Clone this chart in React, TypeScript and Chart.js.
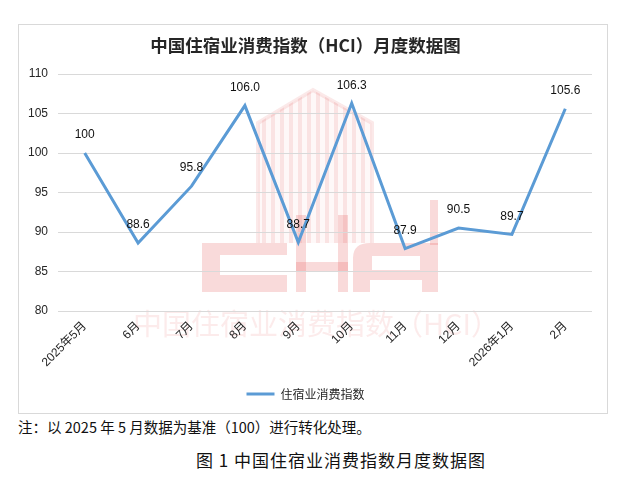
import React, { useEffect, useRef } from "react";
import { Chart, registerables } from "chart.js";

Chart.register(...registerables);

const categories = ["2025年5月", "6月", "7月", "8月", "9月", "10月", "11月", "12月", "2026年1月", "2月"];
const hciValues = [100, 88.6, 95.8, 106.0, 88.7, 106.3, 87.9, 90.5, 89.7, 105.6];
const hciLabels = ["100", "88.6", "95.8", "106.0", "88.7", "106.3", "87.9", "90.5", "89.7", "105.6"];
const yTicks = [80, 85, 90, 95, 100, 105, 110];
const seriesName = "住宿业消费指数";
const chartTitle = "中国住宿业消费指数（HCI）月度数据图";
const watermarkText = "中国住宿业消费指数（HCI）";
const noteText = "注：以 2025 年 5 月数据为基准（100）进行转化处理。";
const captionText = "图 1 中国住宿业消费指数月度数据图";

const SANS = "'Liberation Sans', 'Noto Sans CJK SC', sans-serif";
const CJK = "'Noto Sans CJK SC', sans-serif";

// page -> canvas offset
const OX = 19;
const OY = 25;

const watermarkPlugin = {
  id: "watermark",
  beforeDraw(chart: any) {
    const ctx = chart.ctx;
    ctx.save();
    ctx.translate(-OX, -OY);
    const pink = "rgba(225, 70, 70, 0.2)";
    const pinkLight = "rgba(225, 70, 70, 0.12)";
    // building
    ctx.save();
    ctx.beginPath();
    ctx.moveTo(258, 243);
    ctx.lineTo(258, 123);
    ctx.lineTo(313, 90);
    ctx.lineTo(372, 123);
    ctx.lineTo(372, 243);
    ctx.closePath();
    ctx.clip();
    ctx.fillStyle = "rgba(225, 70, 70, 0.04)";
    ctx.fillRect(258, 88, 114, 156);
    ctx.fillStyle = pinkLight;
    for (let x = 262; x < 370; x += 9) {
      ctx.fillRect(x, 88, 4, 156);
    }
    ctx.restore();
    ctx.strokeStyle = pinkLight;
    ctx.lineWidth = 4;
    ctx.beginPath();
    ctx.moveTo(258, 243);
    ctx.lineTo(258, 123);
    ctx.lineTo(313, 90);
    ctx.lineTo(372, 123);
    ctx.lineTo(372, 243);
    ctx.stroke();

    ctx.fillStyle = pink;
    // C
    ctx.beginPath();
    ctx.rect(202, 243, 85, 49);
    ctx.rect(220, 255, 67, 20);
    ctx.fill("evenodd");
    // H
    ctx.fillRect(296, 215, 10, 77);
    ctx.fillRect(338, 215, 10, 77);
    ctx.fillRect(296, 262, 52, 9);
    // A
    ctx.beginPath();
    ctx.moveTo(353, 292);
    ctx.lineTo(353, 258);
    ctx.quadraticCurveTo(353, 243, 370, 243);
    ctx.lineTo(438, 243);
    ctx.lineTo(438, 292);
    ctx.lineTo(422, 292);
    ctx.lineTo(422, 280);
    ctx.lineTo(370, 280);
    ctx.lineTo(370, 292);
    ctx.closePath();
    ctx.moveTo(372, 256);
    ctx.lineTo(420, 256);
    ctx.lineTo(420, 270);
    ctx.lineTo(372, 270);
    ctx.closePath();
    ctx.fill("evenodd");
    ctx.fillRect(430, 200, 8, 45);

    // text
    ctx.font = `29px ${CJK}`;
    ctx.fillStyle = "rgba(235, 110, 110, 0.14)";
    ctx.textAlign = "left";
    ctx.textBaseline = "middle";
    ctx.fillText(watermarkText, 133, 324);
    ctx.restore();
  },
};

const dataLabelPlugin = {
  id: "dataLabels",
  afterDatasetsDraw(chart: any) {
    const ctx = chart.ctx;
    const meta = chart.getDatasetMeta(0);
    ctx.save();
    ctx.font = `12px ${SANS}`;
    ctx.fillStyle = "#111";
    ctx.textAlign = "center";
    ctx.textBaseline = "middle";
    meta.data.forEach((pt: any, i: number) => {
      ctx.fillText(hciLabels[i], pt.x, pt.y - 18);
    });
    ctx.restore();
  },
};

export default function App() {
  const canvasRef = useRef<HTMLCanvasElement | null>(null);

  useEffect(() => {
    if (!canvasRef.current) return;
    const chart = new Chart(canvasRef.current, {
      type: "line",
      data: {
        labels: categories,
        datasets: [
          {
            label: seriesName,
            data: hciValues,
            borderColor: "#5b9bd5",
            backgroundColor: "#5b9bd5",
            borderWidth: 3,
            pointRadius: 0,
            pointHoverRadius: 0,
            tension: 0,
            fill: false,
            pointStyle: "line",
          },
        ],
      },
      options: {
        responsive: false,
        animation: false,
        events: [],
        layout: { padding: { left: 0, right: 15, top: 0, bottom: 3 } },
        plugins: {
          title: {
            display: true,
            text: chartTitle,
            color: "#262626",
            font: { family: CJK, size: 17.5, weight: "bold" },
            padding: { top: 9.5, bottom: 18.5 },
          },
          legend: {
            display: true,
            position: "bottom",
            labels: {
              usePointStyle: true,
              pointStyleWidth: 28,
              padding: 4,
              color: "#262626",
              font: { family: CJK, size: 12 },
            },
          },
          tooltip: { enabled: false },
        },
        scales: {
          x: {
            offset: true,
            grid: { display: false },
            border: { display: false },
            afterFit: (scale: any) => {
              scale.height = 73;
            },
            ticks: {
              minRotation: 45,
              maxRotation: 45,
              autoSkip: false,
              padding: 0,
              color: "#262626",
              font: { family: SANS, size: 12 },
            },
          },
          y: {
            min: 80,
            max: 110,
            border: { display: false },
            grid: { color: "#d9d9d9", lineWidth: 1, drawTicks: false },
            afterBuildTicks: (scale: any) => {
              scale.ticks = yTicks.map((v) => ({ value: v }));
            },
            afterFit: (scale: any) => {
              scale.width = 39;
            },
            ticks: {
              padding: 10,
              color: "#262626",
              font: { family: SANS, size: 12 },
            },
          },
        },
      },
      plugins: [watermarkPlugin, dataLabelPlugin],
    } as any);
    return () => chart.destroy();
  }, []);

  return (
    <div
      style={{
        position: "absolute",
        left: 0,
        top: 0,
        width: 623,
        height: 479,
        background: "#fff",
        overflow: "hidden",
      }}
    >
      <div
        style={{
          position: "absolute",
          left: 18,
          top: 24,
          width: 588,
          height: 388,
          border: "1px solid #d9d9d9",
        }}
      >
        <canvas ref={canvasRef} width={588} height={388} style={{ display: "block" }} />
      </div>
      <div
        style={{
          position: "absolute",
          left: 18,
          top: 418,
          fontFamily: CJK,
          fontSize: 14.5,
          lineHeight: "18px",
          color: "#111",
          whiteSpace: "nowrap",
        }}
      >
        {noteText}
      </div>
      <div
        style={{
          position: "absolute",
          left: 141,
          top: 450,
          width: 400,
          textAlign: "center",
          fontFamily: CJK,
          fontSize: 17,
          letterSpacing: "1px",
          lineHeight: "20px",
          color: "#111",
          whiteSpace: "nowrap",
        }}
      >
        {captionText}
      </div>
    </div>
  );
}
